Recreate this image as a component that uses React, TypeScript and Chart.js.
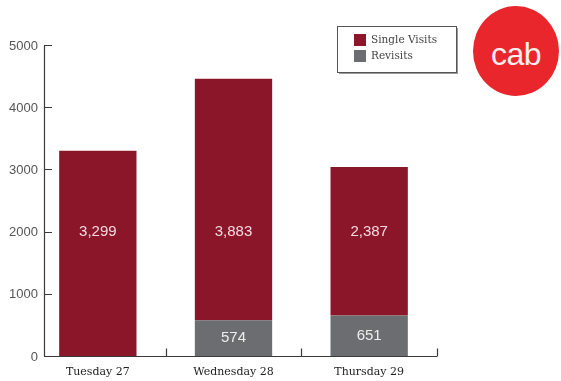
import React, { useEffect, useRef } from "react";
import { Chart, registerables } from "chart.js";

Chart.register(...registerables);

const categories = ["Tuesday 27", "Wednesday 28", "Thursday 29"];
const revisits = [0, 574, 651];
const singleVisits = [3299, 3883, 2387];
const yTicks = [0, 1000, 2000, 3000, 4000, 5000];
const seriesNames = ["Single Visits", "Revisits"];
const seriesColors = ["#8c1629", "#6c6d70"];

const fmt = (v: number) => v.toLocaleString("en-US");

const customPlugin = {
  id: "custom",
  afterDraw(chart: any) {
    const { ctx, chartArea } = chart;
    const x = chart.scales.x;
    const y = chart.scales.y;
    const axisX = chartArea.left + 14;
    const bottom = Math.round(y.getPixelForValue(0)) + 0.5;
    ctx.save();
    ctx.strokeStyle = "#3a3a3a";
    ctx.lineWidth = 1.2;
    // y axis
    ctx.beginPath();
    ctx.moveTo(axisX + 0.5, Math.round(y.getPixelForValue(5000)) + 0.5);
    ctx.lineTo(axisX + 0.5, bottom);
    yTicks.forEach((t) => {
      const py = Math.round(y.getPixelForValue(t)) + 0.5;
      ctx.moveTo(axisX, py);
      ctx.lineTo(axisX + 8, py);
    });
    // x axis
    ctx.moveTo(axisX, bottom);
    ctx.lineTo(chartArea.right, bottom);
    const n = categories.length;
    for (let i = 0; i < n; i++) {
      const edge = i < n - 1 ? (x.getPixelForValue(i) + x.getPixelForValue(i + 1)) / 2 : chartArea.right - 0.5;
      const ex = Math.round(edge) + 0.5;
      ctx.moveTo(ex, bottom);
      ctx.lineTo(ex, bottom - 8);
    }
    ctx.stroke();

    // y tick labels
    ctx.fillStyle = "#555555";
    ctx.font = "13px 'Liberation Sans', sans-serif";
    ctx.textAlign = "right";
    ctx.textBaseline = "middle";
    yTicks.forEach((t) => {
      ctx.fillText(String(t), axisX - 6, y.getPixelForValue(t) + 1);
    });

    // value labels
    ctx.font = "15px 'Liberation Sans', sans-serif";
    ctx.textAlign = "center";
    categories.forEach((_, i) => {
      const cx = x.getPixelForValue(i);
      ctx.fillStyle = "#f3d9de";
      ctx.fillText(fmt(singleVisits[i]), cx, y.getPixelForValue(1990));
      if (revisits[i] > 0) {
        ctx.fillStyle = "#eeeeee";
        ctx.fillText(fmt(revisits[i]), cx, y.getPixelForValue(revisits[i] / 2));
      }
    });

    // legend
    const lx = 337.5, ly = 26.5, lw = 119, lh = 46;
    ctx.fillStyle = "#9a9a9a";
    ctx.fillRect(lx + 1.5, ly + 1.5, lw, lh);
    ctx.fillStyle = "#ffffff";
    ctx.fillRect(lx, ly, lw, lh);
    ctx.strokeStyle = "#555555";
    ctx.lineWidth = 1;
    ctx.strokeRect(lx, ly, lw, lh);
    ctx.font = "10.5px 'DejaVu Serif', serif";
    ctx.textAlign = "left";
    seriesNames.forEach((name, i) => {
      const sy = 34 + i * 16;
      ctx.fillStyle = seriesColors[i];
      ctx.fillRect(354, sy, 12, 12);
      ctx.fillStyle = "#444444";
      ctx.fillText(name, 371, sy + 6.5);
    });
    ctx.restore();
  },
};

export default function App() {
  const ref = useRef<HTMLCanvasElement>(null);
  useEffect(() => {
    if (!ref.current) return;
    const chart = new Chart(ref.current, {
      type: "bar",
      data: {
        labels: categories,
        datasets: [
          { label: seriesNames[1], data: revisits, backgroundColor: seriesColors[1], barPercentage: 0.57, categoryPercentage: 1 },
          { label: seriesNames[0], data: singleVisits, backgroundColor: seriesColors[0], barPercentage: 0.57, categoryPercentage: 1 },
        ],
      },
      options: {
        animation: false,
        responsive: false,
        layout: { padding: { top: 45, right: 124, left: 0, bottom: 0 } },
        plugins: { legend: { display: false }, tooltip: { enabled: false } },
        scales: {
          x: {
            stacked: true,
            grid: { display: false, drawTicks: false },
            border: { display: false },
            ticks: { padding: 10, color: "#222222", font: { family: "'DejaVu Serif', serif", size: 11 }, maxRotation: 0 },
            afterFit: (s: any) => { s.height = 25; },
          },
          y: {
            stacked: true,
            min: 0,
            max: 5000,
            grid: { display: false, drawTicks: false },
            border: { display: false },
            ticks: { display: false, stepSize: 1000 },
            afterFit: (s: any) => { s.width = 30; },
          },
        },
      },
      plugins: [customPlugin],
    });
    return () => chart.destroy();
  }, []);
  return (
    <div style={{ position: "fixed", left: 0, top: 0, width: 561, height: 381, background: "#fff" }}>
      <canvas ref={ref} width={561} height={381} style={{ position: "absolute", left: 0, top: 0 }} />
      <div
        style={{
          position: "absolute",
          left: 473,
          top: 6,
          width: 86,
          height: 90,
          borderRadius: "50%",
          background: "#e8262b",
          color: "#fbeeee",
          display: "flex",
          alignItems: "center",
          justifyContent: "center",
          fontFamily: "'Liberation Sans', sans-serif",
          fontSize: 32,
          letterSpacing: -0.5,
        }}
      >
        <span style={{ marginTop: 6 }}>cab</span>
      </div>
    </div>
  );
}
